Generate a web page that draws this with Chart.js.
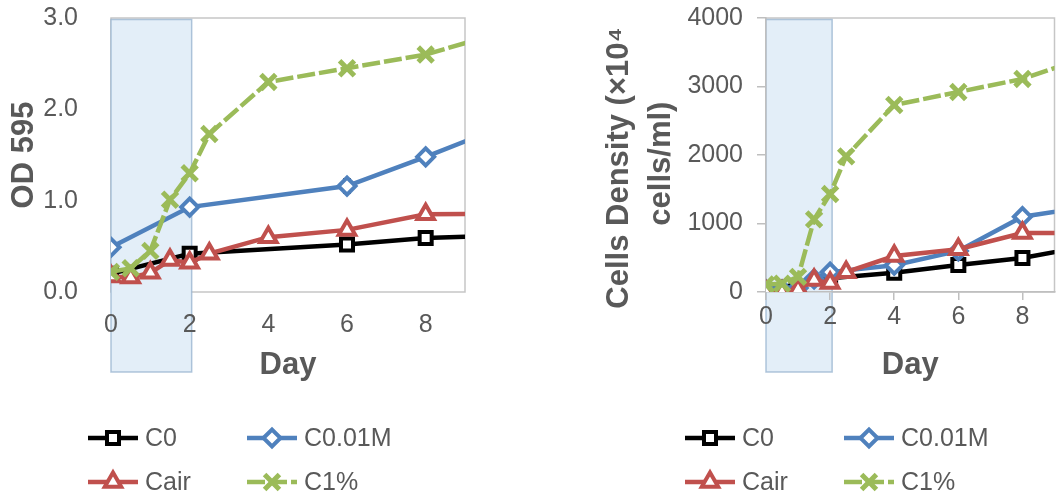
<!DOCTYPE html>
<html>
<head>
<meta charset="utf-8">
<script src="https://cdn.jsdelivr.net/npm/chart.js@4.4.1/dist/chart.umd.min.js"></script>
<style>
  html, body { margin: 0; padding: 0; background: #fff; width: 1061px; height: 497px; overflow: hidden; }
  #odChart { position: absolute; left: 0; top: 0; }
  #cellChart { position: absolute; left: 560px; top: 0; }
</style>
</head>
<body>
<canvas id="odChart" width="540" height="497"></canvas>
<canvas id="cellChart" width="510" height="497"></canvas>
<script>
// series names (legend order)
const seriesNames = ["C0", "C0.01M", "Cair", "C1%"];

// shaded period (days)
const shadeDays = [0, 2];

// OD 595 panel
const odDaysC0 = [0, 2, 6, 8, 10];
const odC0 = [0.2, 0.42, 0.52, 0.59, 0.62];
const odDaysC001M = [0, 2, 6, 8, 10];
const odC001M = [0.49, 0.93, 1.16, 1.48, 1.82];
const odErrC001M = [0, 0.04, 0.08, 0.03, 0];
const odDaysCair = [0, 0.5, 1, 1.5, 2, 2.5, 4, 6, 8, 10];
const odCair = [0.17, 0.16, 0.21, 0.35, 0.32, 0.42, 0.6, 0.68, 0.85, 0.86];
const odDaysC1 = [0, 0.5, 1, 1.5, 2, 2.5, 4, 6, 8, 10];
const odC1 = [0.22, 0.26, 0.45, 1.01, 1.3, 1.73, 2.3, 2.45, 2.6, 2.85];

// cell density panel (x10^4 cells/ml)
const cdDaysC0 = [0, 2, 4, 6, 8, 10];
const cdC0 = [30, 200, 280, 394, 496, 670];
const cdDaysC001M = [0, 0.5, 1, 1.5, 2, 4, 6, 8, 10];
const cdC001M = [30, 30, 60, 190, 290, 390, 600, 1100, 1240];
const cdDaysCair = [0, 0.5, 1, 1.5, 2, 2.5, 4, 6, 8, 10];
const cdCair = [0, 0, 40, 175, 130, 290, 525, 625, 860, 860];
const cdDaysC1 = [0, 0.5, 1, 1.5, 2, 2.5, 4, 6, 8, 10];
const cdC1 = [110, 120, 220, 1060, 1430, 1980, 2730, 2920, 3110, 3430];

Chart.defaults.font.family = '"Liberation Sans", Arial, sans-serif';
Chart.defaults.color = "#595959";

const looks = [
  { color: "#000000", pointStyle: "rect", radius: 8.5, pw: 4, dash: [], order: 4 },
  { color: "#4F81BD", pointStyle: "rectRot", radius: 8.5, pw: 4, dash: [], order: 3 },
  { color: "#C0504D", pointStyle: "triangle", radius: 9.5, pw: 4, dash: [], order: 2 },
  { color: "#9BBB59", pointStyle: "crossRot", radius: 10.5, pw: 5, dash: [18, 4], order: 1 }
];

function pts(days, vals) {
  return days.map((d, i) => ({ x: d, y: vals[i] }));
}

function makeSet(i, days, vals, errs) {
  const l = looks[i];
  return {
    label: seriesNames[i],
    data: pts(days, vals),
    errorBars: errs || null,
    borderColor: l.color,
    borderWidth: 4.5,
    borderDash: l.dash,
    tension: 0,
    pointStyle: l.pointStyle,
    pointRadius: l.radius,
    pointBorderWidth: l.pw,
    pointBorderColor: l.color,
    pointBackgroundColor: "#ffffff",
    order: l.order
  };
}

// shade box + plot frame, under everything
const shadePlugin = {
  id: "shade",
  beforeDraw(chart, args, opts) {
    const { ctx, chartArea: a, scales } = chart;
    ctx.save();
    ctx.strokeStyle = "#c6c6c6";
    ctx.lineWidth = 1.5;
    ctx.strokeRect(a.left, a.top, a.right - a.left, a.bottom - a.top);
    const x0 = scales.x.getPixelForValue(shadeDays[0]);
    const x1 = scales.x.getPixelForValue(shadeDays[1]) + 2;
    ctx.fillStyle = "#e3eef8";
    ctx.fillRect(x0, a.top + 1.5, x1 - x0, opts.bottom - a.top - 1.5);
    ctx.strokeStyle = "rgba(150,178,206,0.75)";
    ctx.lineWidth = 1.5;
    ctx.strokeRect(x0, a.top + 1.5, x1 - x0, opts.bottom - a.top - 1.5);
    ctx.restore();
  }
};

const errorBarPlugin = {
  id: "errbars",
  beforeDatasetsDraw(chart) {
    const { ctx, scales } = chart;
    ctx.save();
    ctx.strokeStyle = "#404040";
    ctx.lineWidth = 1.5;
    chart.data.datasets.forEach(ds => {
      if (!ds.errorBars) return;
      ds.data.forEach((p, i) => {
        const e = ds.errorBars[i];
        if (!e) return;
        const x = scales.x.getPixelForValue(p.x);
        const yt = scales.y.getPixelForValue(p.y + e);
        const yb = scales.y.getPixelForValue(p.y - e);
        ctx.beginPath();
        ctx.moveTo(x, yt); ctx.lineTo(x, yb);
        ctx.moveTo(x - 4, yt); ctx.lineTo(x + 4, yt);
        ctx.moveTo(x - 4, yb); ctx.lineTo(x + 4, yb);
        ctx.stroke();
      });
    });
    ctx.restore();
  }
};

// two-column legend with line + marker samples
const legendPlugin = {
  id: "lineLegend",
  afterDraw(chart, args, opts) {
    const ctx = chart.ctx;
    ctx.save();
    chart.data.datasets.forEach((ds, i) => {
      const x = opts.x + (i % 2) * 159;
      const y = opts.y + Math.floor(i / 2) * 44;
      ctx.strokeStyle = ds.borderColor;
      ctx.lineWidth = ds.borderWidth;
      ctx.setLineDash(ds.borderDash);
      ctx.beginPath();
      ctx.moveTo(x, y); ctx.lineTo(x + 50, y);
      ctx.stroke();
      ctx.setLineDash([]);
      ctx.fillStyle = ds.pointBackgroundColor;
      ctx.lineWidth = ds.pointBorderWidth;
      Chart.helpers.drawPoint(ctx, {
        pointStyle: ds.pointStyle, radius: ds.pointRadius, rotation: 0, borderWidth: ds.pointBorderWidth
      }, x + 25, y);
      ctx.fillStyle = "#595959";
      ctx.font = '25px "Liberation Sans", Arial, sans-serif';
      ctx.textBaseline = "middle";
      ctx.textAlign = "left";
      ctx.fillText(ds.label, x + 57, y + 1);
    });
    ctx.restore();
  }
};

function makeChart(id, sets, yOpts, cfg) {
  return new Chart(document.getElementById(id), {
    type: "line",
    data: { datasets: sets },
    plugins: [shadePlugin, errorBarPlugin, legendPlugin],
    options: {
      responsive: false,
      animation: false,
      events: [],
      layout: { padding: { left: 0, right: cfg.padRight, top: 18, bottom: 105 } },
      plugins: {
        legend: { display: false },
        tooltip: { enabled: false },
        shade: { bottom: 372 },
        lineLegend: { x: cfg.legendX, y: 438 }
      },
      scales: {
        x: {
          type: "linear",
          min: 0, max: 9,
          afterFit: s => { s.height = 100; s.paddingLeft = 0; s.paddingRight = 0; },
          border: { display: cfg.axisLines, color: "#bfbfbf", width: 1.5 },
          grid: { display: cfg.axisLines, drawOnChartArea: false, tickLength: 8, color: "#bfbfbf", lineWidth: 1.5 },
          ticks: { stepSize: 2, includeBounds: false, padding: cfg.axisLines ? 2 : 10, font: { size: 25 }, color: "#595959" },
          title: { display: true, text: "Day", font: { size: 31, weight: "bold" }, color: "#595959", padding: { bottom: 8 } }
        },
        y: Object.assign({
          afterFit: s => { s.width = cfg.yWidth; s.paddingTop = 0; s.paddingBottom = 0; },
          border: { display: cfg.axisLines, color: "#bfbfbf", width: 1.5 },
          grid: { display: cfg.axisLines, drawOnChartArea: false, tickLength: 9, color: "#bfbfbf", lineWidth: 1.5 }
        }, yOpts)
      }
    }
  });
}

makeChart("odChart", [
  makeSet(0, odDaysC0, odC0),
  makeSet(1, odDaysC001M, odC001M, odErrC001M),
  makeSet(2, odDaysCair, odCair),
  makeSet(3, odDaysC1, odC1)
], {
  min: 0, max: 3,
  ticks: { stepSize: 1, padding: 24, font: { size: 25 }, color: "#595959", callback: v => v.toFixed(1) },
  title: { display: true, text: "OD 595", font: { size: 31, weight: "bold" }, color: "#595959", padding: { top: 6 } }
}, { padRight: 75, yWidth: 111, legendX: 88, axisLines: false });

makeChart("cellChart", [
  makeSet(0, cdDaysC0, cdC0),
  makeSet(1, cdDaysC001M, cdC001M),
  makeSet(2, cdDaysCair, cdCair),
  makeSet(3, cdDaysC1, cdC1)
], {
  min: 0, max: 4000,
  ticks: { stepSize: 1000, padding: 14, font: { size: 25 }, color: "#595959", callback: v => String(v) },
  title: { display: true, text: ["Cells Density (×10⁴   ", "cells/ml)  "], font: { size: 31, weight: "bold", lineHeight: 1.35 }, color: "#595959", padding: { top: 39 } }
}, { padRight: 8, yWidth: 206, legendX: 125, axisLines: true });
</script>
</body>
</html>
